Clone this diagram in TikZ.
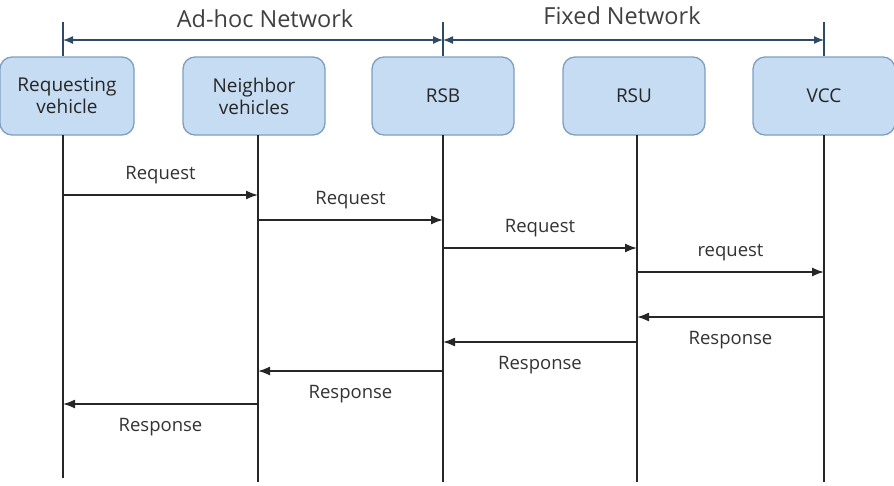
\documentclass[tikz,border=0pt]{standalone}
\usepackage{fontspec}
\setmainfont{Open Sans}
\usetikzlibrary{arrows.meta,positioning}
\definecolor{boxfill}{HTML}{C6DCF2}
\definecolor{boxline}{HTML}{7E9FC2}
\definecolor{netline}{HTML}{2E4A68}
\tikzset{
  entity/.style={draw=boxline,fill=boxfill,rounded corners=12pt,line width=1.3pt,align=center,
    minimum width=142pt,minimum height=78pt,inner sep=2pt,font=\fontsize{19}{22}\selectfont,text=black!85},
  lifeline/.style={line width=1.6pt,black!85},
  msg/.style={-{Latex[length=12pt,width=9pt]},line width=1.6pt,black!85},
  msglabel/.style={font=\fontsize{18.5}{21}\selectfont,text=black!80},
  netarr/.style={{Latex[length=10pt,width=8pt]}-{Latex[length=10pt,width=8pt]},line width=1.3pt,netline},
  nettick/.style={line width=1.3pt,netline},
  netlabel/.style={font=\fontsize{23.5}{27}\selectfont,text=black!75}
}
\begin{document}
\begin{tikzpicture}[x=1pt,y=-1pt]
  \useasboundingbox (0,0) rectangle (894,485);
  % entities
  \node[entity,minimum width=134pt] (reqveh) at (67,96) {Requesting\\vehicle};
  \node[entity] (neighbor) at (254,96) {Neighbor\\vehicles};
  \node[entity] (rsb) at (443,96) {RSB};
  \node[entity] (rsu) at (634,96) {RSU};
  \node[entity] (vcc) at (824,96) {VCC};

  % lifelines
  \coordinate (l1) at (63,135);  \coordinate (e1) at (63,478);
  \coordinate (l2) at (258,135); \coordinate (e2) at (258,482);
  \coordinate (l3) at (443,135); \coordinate (e3) at (443,482);
  \coordinate (l4) at (637,135); \coordinate (e4) at (637,482);
  \coordinate (l5) at (824,135); \coordinate (e5) at (824,482);
  \foreach \i in {1,...,5}
    \draw[lifeline] (l\i) -- (e\i);

  % network ranges
  \coordinate (t1) at (63,22);  \coordinate (t2) at (443,22);  \coordinate (t3) at (824,22);
  \draw[nettick] (t1) -- (l1 |- reqveh.north);
  \draw[nettick] (t2) -- (rsb.north);
  \draw[nettick] (t3) -- (vcc.north);
  \draw[netarr] (63,40) -- (443,40);
  \draw[netarr] (443,40) -- (824,40);
  \node[netlabel] (adhoc) at (265,19) {Ad-hoc Network};
  \node[netlabel] (fixed) at (622,16) {Fixed Network};

  % requests
  \draw[msg] (l1 |- 0,195) -- (l2 |- 0,195) node[msglabel,midway,above=7pt] {Request};
  \draw[msg] (l2 |- 0,220) -- (l3 |- 0,220) node[msglabel,midway,above=7pt] {Request};
  \draw[msg] (l3 |- 0,248) -- (l4 |- 0,248) node[msglabel,midway,above=7pt] {Request};
  \draw[msg] (l4 |- 0,272) -- (l5 |- 0,272) node[msglabel,midway,above=7pt] {request};

  % responses
  \draw[msg] (l5 |- 0,317) -- (l4 |- 0,317) node[msglabel,midway,below=10pt] {Response};
  \draw[msg] (l4 |- 0,342) -- (l3 |- 0,342) node[msglabel,midway,below=10pt] {Response};
  \draw[msg] (l3 |- 0,371) -- (l2 |- 0,371) node[msglabel,midway,below=10pt] {Response};
  \draw[msg] (l2 |- 0,404) -- (l1 |- 0,404) node[msglabel,midway,below=10pt] {Response};
\end{tikzpicture}
\end{document}
